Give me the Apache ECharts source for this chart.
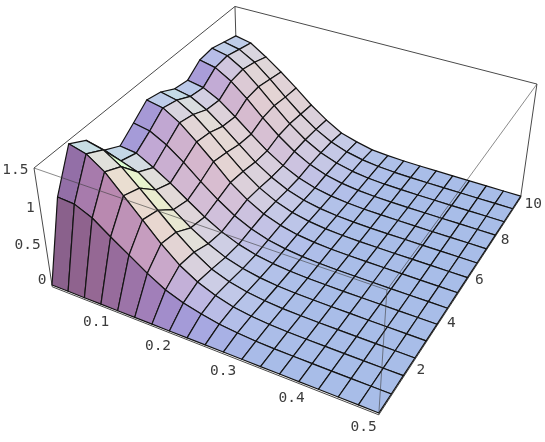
<!DOCTYPE html>
<html>
<head>
<meta charset="utf-8">
<style>html,body{margin:0;padding:0;background:#fff}#main{width:545px;height:442px}</style>
<script src="https://cdn.jsdelivr.net/npm/echarts@6/dist/echarts.min.js"></script>
</head>
<body>
<div id="main"></div>
<script>
// grid of the surface
var xValues = [0, .0278, .0556, .0833, .1111, .1389, .1667, .1944, .2222, .25, .2778, .3056, .3333, .3611, .3889, .4167, .4444, .4722, .5];
var yValues = [0, .714, 1.429, 2.143, 2.857, 3.571, 4.286, 5, 5.714, 6.429, 7.143, 7.857, 8.571, 9.286, 10];

var row0 = [0, 0, 0, 0, 0, 0, 0, 0, 0, 0, 0, 0, 0, 0, 0, 0, 0, 0, 0];
var row1 = [.97, .955, .855, .69, .535, .38, .245, .16, .10, .055, .03, .012, .005, .002, .001, 0, 0, 0, 0];
var row2 = [1.46, 1.405, 1.255, 1.03, .8, .57, .37, .23, .135, .07, .035, .015, .006, .002, .001, 0, 0, 0, 0];
var row3 = [1.34, 1.29, 1.15, .95, .74, .53, .345, .2, .115, .06, .03, .012, .005, .002, .001, 0, 0, 0, 0];
var row4 = [1.055, .985, .91, .75, .565, .40, .265, .16, .09, .047, .022, .01, .004, .002, .001, 0, 0, 0, 0];
var row5 = [.945, .92, .80, .665, .51, .36, .235, .143, .08, .042, .02, .009, .004, .001, 0, 0, 0, 0, 0];
var row6 = [1.085, 1.045, .93, .77, .585, .415, .27, .165, .092, .048, .023, .01, .004, .002, .001, 0, 0, 0, 0];
var row7 = [1.23, 1.19, 1.06, .875, .68, .47, .31, .186, .105, .054, .026, .011, .005, .002, .001, 0, 0, 0, 0];
var row8 = [1.185, 1.14, 1.015, .84, .64, .45, .295, .18, .10, .052, .025, .011, .005, .002, .001, 0, 0, 0, 0];
var row9 = [1.08, 1.04, .925, .765, .585, .41, .27, .163, .092, .048, .023, .01, .004, .002, .001, 0, 0, 0, 0];
var row10 = [1.05, 1.01, .90, .74, .565, .40, .262, .158, .089, .046, .022, .009, .004, .002, .001, 0, 0, 0, 0];
var row11 = [1.18, 1.135, 1.01, .835, .635, .45, .295, .178, .10, .052, .025, .011, .005, .002, .001, 0, 0, 0, 0];
var row12 = [1.2, 1.155, 1.03, .85, .65, .46, .30, .18, .102, .053, .025, .011, .005, .002, .001, 0, 0, 0, 0];
var row13 = [1.15, 1.105, .985, .81, .62, .44, .288, .172, .097, .05, .024, .01, .004, .002, .001, 0, 0, 0, 0];
var row14 = [1.1, 1.057, .92, .767, .60, .42, .268, .143, .08, .03, .015, .006, .002, .001, 0, 0, 0, 0, 0];
var zRows = [row0, row1, row2, row3, row4, row5, row6, row7, row8, row9, row10, row11, row12, row13, row14];

var xTicks = ['0.1', '0.2', '0.3', '0.4', '0.5'];
var yTicks = ['2', '4', '6', '8', '10'];
var zTicks = ['0', '0.5', '1', '1.5'];
var zTickDy = [-5, -3, -1, 2];

var xMax = .5, yMax = 10, zMax = 1.5, boxFloor = -.025;

// perspective of the box, fitted to its corners on the picture
function project(x, y, z) {
    var u = x / xMax, v = y / yMax, w = z / zMax;
    var d = 1 - .119 * u + .2158 * v - .071 * w;
    return [(52 + 281.8 * u + 237.4 * v - 20.4 * w) / d, (285 + 78.8 * u - 148.7 * v - 128.9 * w) / d];
}

// colour of a cell from its normal, weights fitted to sampled cells
function shade(i, j) {
    var zs = zRows;
    var dx = (zs[j][i + 1] + zs[j + 1][i + 1] - zs[j][i] - zs[j + 1][i]) / 2 / zMax * .4 / ((xValues[i + 1] - xValues[i]) / xMax);
    var dy = (zs[j + 1][i] + zs[j + 1][i + 1] - zs[j][i] - zs[j][i + 1]) / 2 / zMax * .4 / ((yValues[j + 1] - yValues[j]) / yMax);
    var len = Math.sqrt(dx * dx + dy * dy + 1);
    var nx = -dx / len, ny = -dy / len, nz = 1 / len;
    var R = .67 + .319 * nx + .133 * ny - .01 * nz;
    var G = .679 + .13 * nx + (ny < 0 ? .33 * ny : .2 * ny + .2 * ny * ny) + .061 * nz;
    var B = .48 + .05 * nx + .05 * ny + .43 * nz;
    return 'rgb(' + Math.round(Math.min(1, R) * 255) + ',' + Math.round(Math.min(1, G) * 255) + ',' + Math.round(Math.min(1, B) * 255) + ')';
}

// far cells first so the near ones paint over them
var cells = [];
for (var j = yValues.length - 2; j >= 0; j--) {
    for (var i = 0; i < xValues.length - 1; i++) {
        cells.push([i, j]);
    }
}

var backEdges = [
    [0, 0, boxFloor, 0, 0, zMax],
    [0, 0, zMax, 0, yMax, zMax],
    [0, yMax, zMax, xMax, yMax, zMax],
    [0, yMax, zMax, 0, yMax, boxFloor],
    [xMax, yMax, zMax, xMax, yMax, boxFloor],
    [0, 0, boxFloor, xMax, 0, boxFloor],
    [xMax, 0, boxFloor, xMax, yMax, boxFloor]
];
var frontEdges = [
    [0, 0, zMax, xMax, 0, zMax],
    [xMax, 0, zMax, xMax, 0, boxFloor],
    [xMax, 0, zMax, xMax, yMax, zMax]
];

var labels = [];
xTicks.forEach(function (t) { labels.push({ text: t, at: [+t, 0, boxFloor], dx: -2, dy: 12, align: 'right' }); });
yTicks.forEach(function (t) { labels.push({ text: t, at: [xMax, +t, boxFloor], dx: 4, dy: 6.5, align: 'left' }); });
zTicks.forEach(function (t, k) { labels.push({ text: t, at: [0, 0, +t], dx: -5.5, dy: zTickDy[k], align: 'right' }); });

function edgeSeries(data, color, width, z) {
    return {
        type: 'custom',
        coordinateSystem: 'cartesian2d',
        silent: true,
        clip: false,
        z: z,
        data: data,
        renderItem: function (params, api) {
            var e = data[params.dataIndex];
            var p = api.coord(project(e[0], e[1], e[2])), q = api.coord(project(e[3], e[4], e[5]));
            return {
                type: 'line',
                shape: { x1: p[0], y1: p[1], x2: q[0], y2: q[1] },
                style: { stroke: color, lineWidth: width, fill: null }
            };
        }
    };
}

var myChart = echarts.init(document.getElementById('main'), null, { renderer: 'canvas' });
var option = {
    animation: false,
    grid: { left: 0, right: 0, top: 0, bottom: 0 },
    xAxis: { type: 'value', min: 0, max: 545, show: false },
    yAxis: { type: 'value', min: 0, max: 442, inverse: true, show: false },
    series: [
        edgeSeries(backEdges, '#4a4a4a', 1, 1),
        {
            type: 'custom',
            coordinateSystem: 'cartesian2d',
            silent: true,
            clip: false,
            z: 2,
            data: cells,
            renderItem: function (params, api) {
                var c = cells[params.dataIndex], i = c[0], j = c[1];
                var corners = [[i, j], [i + 1, j], [i + 1, j + 1], [i, j + 1]].map(function (k) {
                    return api.coord(project(xValues[k[0]], yValues[k[1]], zRows[k[1]][k[0]]));
                });
                return {
                    type: 'polygon',
                    shape: { points: corners },
                    style: { fill: shade(i, j), stroke: '#141414', lineWidth: 1.2, lineJoin: 'round' }
                };
            }
        },
        edgeSeries(frontEdges, 'rgba(60,60,60,0.75)', .8, 3),
        {
            type: 'custom',
            coordinateSystem: 'cartesian2d',
            silent: true,
            clip: false,
            z: 4,
            data: labels,
            renderItem: function (params, api) {
                var l = labels[params.dataIndex];
                var p = api.coord(project(l.at[0], l.at[1], l.at[2]));
                return {
                    type: 'text',
                    x: p[0] + l.dx,
                    y: p[1] + l.dy,
                    style: {
                        text: l.text,
                        fill: '#3c3c3c',
                        font: '14.5px "DejaVu Sans Mono"',
                        align: l.align,
                        verticalAlign: 'middle'
                    }
                };
            }
        }
    ]
};
myChart.setOption(option);
</script>
</body>
</html>
